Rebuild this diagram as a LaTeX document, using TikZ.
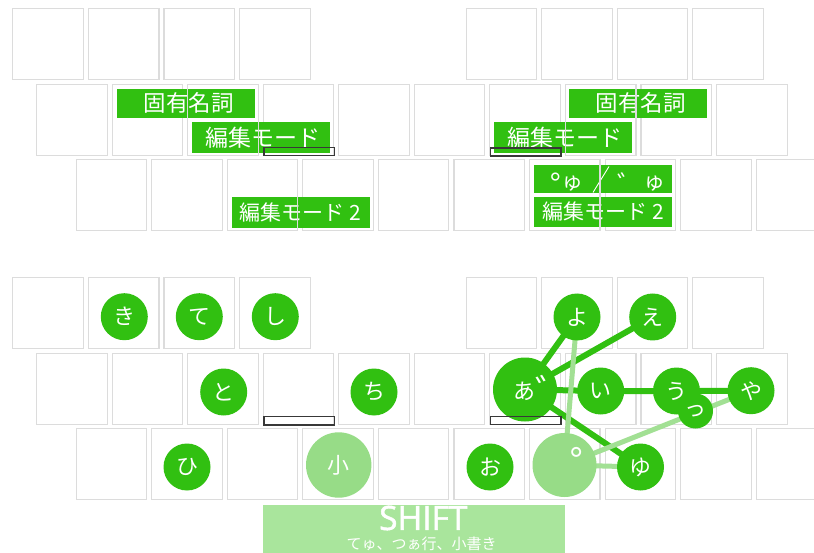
\documentclass[tikz,border=0pt]{standalone}
\usepackage{fontspec}
\newfontfamily\jpf{Noto Sans CJK JP}
\newfontfamily\osf{Open Sans}[FakeBold=1.5]
\newfontfamily\osr{Open Sans}
\newcommand\setfs[1]{\fontsize{#1}{#1}\selectfont}
\definecolor{kg}{HTML}{31C011}
\definecolor{lg}{HTML}{97DC87}
\definecolor{llc}{HTML}{A2E094}
\definecolor{barc}{HTML}{A9E59C}
\definecolor{kb}{HTML}{DCDCDC}
\definecolor{sel}{HTML}{383838}
\pgfdeclarelayer{keys}
\pgfdeclarelayer{lines}
\pgfdeclarelayer{top}
\pgfsetlayers{keys,lines,main,top}
\newcommand\kbox[2]{\draw[keyb] (#1+0.6,#2+0.6) rectangle ++(70.5,70.5);}
\begin{document}
\begin{tikzpicture}[x=1pt,y=-1pt,
 keyb/.style={draw=kb,line width=1.1pt},
 selbox/.style={draw=sel,line width=1.3pt},
 lab/.style={rectangle,fill=kg,text=white,inner sep=0pt,minimum width=138pt},
 dk/.style={circle,fill=kg,text=white,inner sep=0pt,minimum size=47pt,font=\jpf\setfs{22}},
 lt/.style={circle,fill=lg,text=white,inner sep=0pt,minimum size=64pt,font=\jpf\setfs{22}},
 big/.style={dk,minimum size=64pt},
 dline/.style={draw=kg,line width=6pt},
 lline/.style={draw=llc,line width=5pt},
 wtxt/.style={text=white,inner sep=0pt},
]
\useasboundingbox (0,0) rectangle (814,553);
% keys
\begin{pgfonlayer}{keys}
\fill[white] (0,0) rectangle (814,553);
\begin{scope}
\clip (0,0) rectangle (814,553);
\foreach \dy in {0,269} {
  \foreach \i in {0,1,2,3,6,7,8,9} {\kbox{12.3+75.55*\i}{8.3+\dy}}
  \foreach \i in {0,...,9} {\kbox{36+75.55*\i}{84+\dy}}
  \foreach \i in {0,...,9} {\kbox{75.6+75.55*\i}{159.3+\dy}}
}
\end{scope}
\end{pgfonlayer}
% top panel labels
\node[lab,minimum height=28.7pt,font=\jpf\setfs{22.5}] (l1) at (185.85,103.35) {\hspace*{6pt}固有名詞};
\node[lab,minimum height=31.6pt,font=\jpf\setfs{23}] (l2) at (261.35,137.5) {\hspace*{4pt}編集モード};
\node[lab,minimum height=31pt,font=\jpf\setfs{21}] (l3) at (300.5,212.2) {編集モード 2};
\node[lab,minimum height=28.7pt,font=\jpf\setfs{22.5}] (r1) at (637.5,103.35) {\hspace*{6pt}固有名詞};
\node[lab,minimum height=31.6pt,font=\jpf\setfs{23}] (r2) at (562.5,137.5) {\hspace*{5pt}編集モード};
\node[lab,minimum height=28.3pt] (r3) at (603.35,179.15) {};
\node[lab,minimum height=30pt,font=\jpf\setfs{21}] (r4) at (603.35,211.7) {編集モード 2};
\node[wtxt,font=\jpf\setfs{22},anchor=base west] (r3a) at (549.5,189.7) {\raisebox{-2.6pt}{\osr\setfs{27}°}ゅ};
\node[wtxt,font=\jpf\setfs{22},anchor=base west] (r3b) at (617.5,189.7) {\raisebox{-4.8pt}{\setfs{26}゛}ゅ};
\coordinate (s1) at (593,192.5);
\coordinate (s2) at (609,166.5);
\draw[white,line width=0.9pt] (s1) -- (s2);
% bottom panel circles
\node[dk] (ki) at (124.3,316.7) {き};
\node[dk] (te) at (199.3,316.7) {て};
\node[dk] (si) at (275.3,316.7) {し};
\node[dk] (to) at (223.7,392) {と};
\node[dk] (ti) at (374,392) {ち};
\node[dk] (hi) at (187,467) {ひ};
\node[lt,minimum size=65.4pt] (ko) at (338.7,465) {小};
\node[dk] (yo) at (577,317) {よ};
\node[dk] (e) at (652.7,317) {え};
\node[big] (a) at (525,389.5) {};
\node[wtxt,font=\jpf\setfs{22},anchor=base west] (atx) at (513,399.25) {あ\raisebox{-6.6pt}{\setfs{36}゛}};
\node[dk] (i) at (600.7,391) {い};
\node[dk] (u) at (676.5,391) {う};
\node[dk] (ya) at (751,390.7) {や};
\node[dk,minimum size=35pt] (tu) at (695.5,411) {っ};
\node[dk] (o) at (490,467) {お};
\node[lt] (han) at (564.5,465) {};
\node[wtxt,font=\jpf\setfs{44}] (hanm) at (592,465.7) {゜};
\node[dk] (yu) at (640.5,467) {ゆ};
\begin{pgfonlayer}{lines}
\draw[dline] (a.center) -- (yo.center);
\draw[dline] (a.center) -- (e.center);
\draw[dline] (a.center) -- (i.center) -- (u.center) -- (ya.center);
\draw[dline] (a.center) -- (yu.center);
\draw[lline] (yo.center) -- (han.center);
\draw[lline] (han.center) -- (ya.center);
\draw[lline] (han.center) -- (yu.center);
\end{pgfonlayer}
% shift bar
\node[fill=barc,inner sep=0pt,minimum width=302.7pt,minimum height=48.5pt,anchor=north west] (bar) at (262.3,504.5) {};
\node[wtxt,font=\osf\setfs{33.5}] (shift) at (423.3,518) {SHIFT};
\node[wtxt,font=\jpf\setfs{15}] (sub) at (421.7,544.2) {てゅ、つぁ行、小書き};
% overlays
\begin{pgfonlayer}{top}
\kbox{36+75.55*2}{84}
\kbox{75.6+75.55*2}{159.3}
\kbox{36+75.55*7}{84}
\kbox{75.6+75.55*6}{159.3}
\draw[selbox] (263.9,147.3) rectangle (334.4,155.4);
\draw[selbox] (490.6,147.9) rectangle (561.1,156.1);
\draw[selbox] (263.9,416.3) rectangle (334.4,425.1);
\draw[selbox] (490.6,416.3) rectangle (561.1,424.7);
\end{pgfonlayer}
\end{tikzpicture}
\end{document}
